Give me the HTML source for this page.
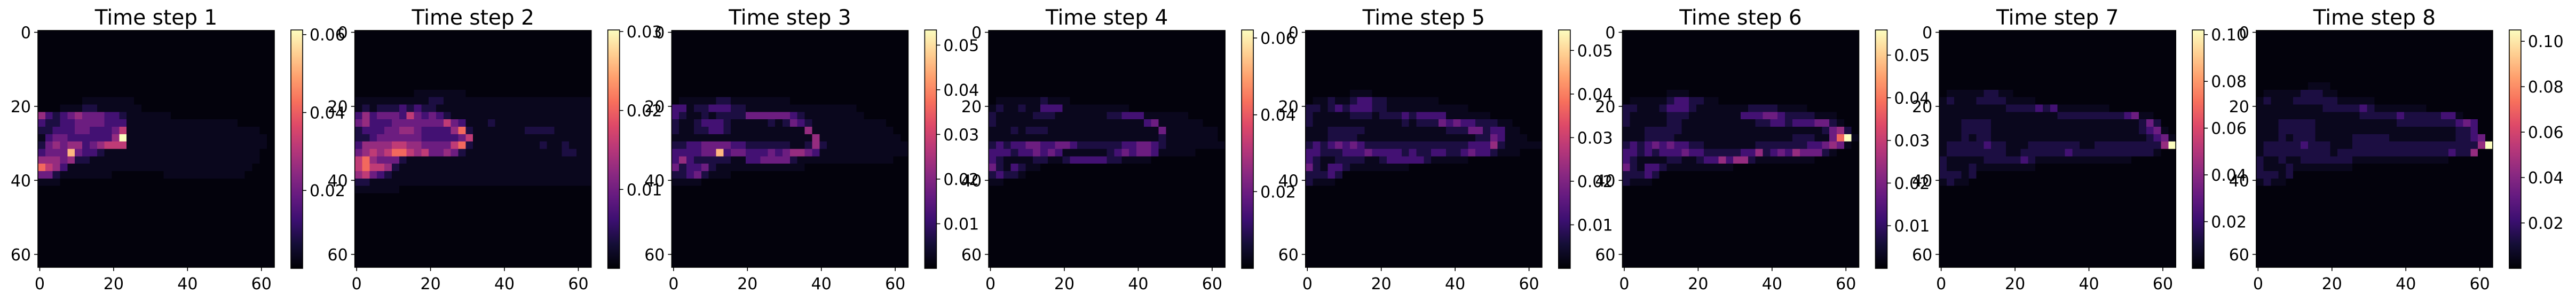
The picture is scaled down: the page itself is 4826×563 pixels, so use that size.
<!DOCTYPE html>
<html><head><meta charset="utf-8">
<style>
html,body{margin:0;padding:0;background:#fff;width:4826px;height:563px;overflow:hidden}
svg{display:block}
text{font-family:"DejaVu Sans","Liberation Sans",sans-serif;fill:#000}
</style></head>
<body>
<svg id="fig" width="4826" height="563" viewBox="0 0 4826 563" xmlns="http://www.w3.org/2000/svg"></svg>
<script>
// ---- data ----
const titles = ["Time step 1","Time step 2","Time step 3","Time step 4","Time step 5","Time step 6","Time step 7","Time step 8"];
const vmax = [0.0612,0.0302,0.0534,0.0621,0.0547,0.0559,0.102,0.105];
const cbTicks1 = [0.02,0.04,0.06];
const cbTicks2 = [0.01,0.02,0.03];
const cbTicks3 = [0.01,0.02,0.03,0.04,0.05];
const cbTicks4 = [0.02,0.04,0.06];
const cbTicks5 = [0.01,0.02,0.03,0.04,0.05];
const cbTicks6 = [0.01,0.02,0.03,0.04,0.05];
const cbTicks7 = [0.02,0.04,0.06,0.08,0.10];
const cbTicks8 = [0.02,0.04,0.06,0.08,0.10];
const cbTickLabels1 = ["0.02","0.04","0.06"];
const cbTickLabels2 = ["0.01","0.02","0.03"];
const cbTickLabels3 = ["0.01","0.02","0.03","0.04","0.05"];
const cbTickLabels4 = ["0.02","0.04","0.06"];
const cbTickLabels5 = ["0.01","0.02","0.03","0.04","0.05"];
const cbTickLabels6 = ["0.01","0.02","0.03","0.04","0.05"];
const cbTickLabels7 = ["0.02","0.04","0.06","0.08","0.10"];
const cbTickLabels8 = ["0.02","0.04","0.06","0.08","0.10"];
const axisTicks = [0,20,40,60];
// level code -> fraction of vmax
const levels = [0.015,0.05,0.12,0.22,0.32,0.42,0.52,0.68,0.85,1.0];
const Z = "00000000000000000000000000000000";
// 32x32 grids (each char = 2x2 block of the 64x64 field)
const grid1 = [Z,Z,Z,Z,Z,Z,Z,Z,Z,
"00000011111110000000000000000000",
"00011122111111000000000000000000",
"53234544433211111100000000000000",
"32233444433311111111111111100000",
"22333443334611111111111111111100",
"13443333335911111111111111111110",
"24545534566611111111111111111110",
"34448433211111111111111111111100",
"55545221111111111111111111111100",
"76531111111111111111111111111000",
"44211111110000000111111111110000",
"11100000000000000000000000000000",
Z,Z,Z,Z,Z,Z,Z,Z,Z,Z,Z];
const grid2 = [Z,Z,Z,Z,Z,Z,Z,Z,
"00000000111111100000000000000000",
"11111111112211111111111111111111",
"12122232322111111111111111111111",
"35344436434321111111111111111111",
"45333444444464311121111111111111",
"23334455433335721111111222211111",
"22344444433333461111111111111111",
"35555665544446721111111112112111",
"45656776564454211111111111112211",
"67544421111111111111111111111111",
"67665211111111111111111111111111",
"56432111111111111111111111111111",
"22111111111111111111111111111111",
"11111100000000000000000000000000",
Z,Z,Z,Z,Z,Z,Z,Z,Z,Z];
const grid3 = [Z,Z,Z,Z,Z,Z,Z,Z,Z,
"01111122111111110000000000000000",
"33122333221111111111111110000000",
"32112122224444443211111111000000",
"21123332111112124321111111111000",
"21122332111111111151111111111100",
"11111111111111111115111111111110",
"22334444332222221125211111111111",
"33334483443334345543111111111111",
"35322222113344442111111111111100",
"42334211111111111100000000000000",
"22342111000000000000000000000000",
"11110000000000000000000000000000",
Z,Z,Z,Z,Z,Z,Z,Z,Z,Z,Z];
const grid4 = [Z,Z,Z,Z,Z,Z,Z,Z,Z,
"01111112111000000000000000000000",
"12112113331111111110000000000000",
"21111122211111112233311111100000",
"21111111111111111111134111111000",
"11121222111111111111111411111110",
"11111111111111111111111211111110",
"23233443344322222233443211111111",
"33323343431111112343443111110000",
"32111122112333332211110000000000",
"42132110000000000000000000000000",
"23221000000000000000000000000000",
"11000000000000000000000000000000",
Z,Z,Z,Z,Z,Z,Z,Z,Z,Z,Z];
const grid5 = [Z,Z,Z,Z,Z,Z,Z,Z,
"00000011100000000000000000000000",
"01121123322111111100000000000000",
"22123233322111111111110000000000",
"21111122212223233331111110000000",
"21111111111112122243433222110000",
"11122222111111111112224423311000",
"11122221111111111111111224311100",
"23234343222222222222223335211111",
"33222333433332322332234332111000",
"32112222112333332111110000000000",
"42133211111111000000000000000000",
"22232000000000000000000000000000",
"21110000000000000000000000000000",
Z,Z,Z,Z,Z,Z,Z,Z,Z,Z,Z];
const grid6 = [Z,Z,Z,Z,Z,Z,Z,Z,
"00000011100000000000000000000000",
"01111123322110000000000000000000",
"22111233321111111222211110000000",
"21111122211111113334432222111000",
"21111122111111111122332333442100",
"11122222111111111111111111124520",
"11122221111111111111111222114791",
"23234343322111111122222223345410",
"33232333433222223352343544421000",
"32111122112335355211111111000000",
"42133211111111100000000000000000",
"22232000000000000000000000000000",
"21110000000000000000000000000000",
Z,Z,Z,Z,Z,Z,Z,Z,Z,Z,Z];
const grid7 = [Z,Z,Z,Z,Z,Z,Z,Z,
"01111122110000000000000000000000",
"12111222211110000000000000000000",
"11111111122223231111111000000000",
"11111111111111112222222223411000",
"11122221111111111111111111124200",
"11122221111111111111111111123410",
"11121221111111111111111111112341",
"12222232211122222221122222222259",
"12222222211222222322222222222100",
"21111122222321111111111111000000",
"21112111111110000000000000000000",
"22212000000000000000000000000000",
"12110000000000000000000000000000",
Z,Z,Z,Z,Z,Z,Z,Z,Z,Z,Z];
const grid8 = [Z,Z,Z,Z,Z,Z,Z,
"00000001110000000000000000000000",
"01111122211000000000000000000000",
"12111222222111110000000000000000",
"11111111122222321111111000000000",
"11111111111111222223222223310000",
"11122222111111111112222222234300",
"11122222111111111111111111122300",
"11121222111112222211111111122340",
"12222232221112222222222222222259",
"12222222221222222222222222322500",
"21121122222221111111111111000000",
"21112111111110000000000000000000",
"22212000000000000000000000000000",
"12110000000000000000000000000000",
Z,Z,Z,Z,Z,Z,Z,Z,Z,Z,Z];
const grids = [grid1,grid2,grid3,grid4,grid5,grid6,grid7,grid8];
const cbTicksAll = [cbTicks1,cbTicks2,cbTicks3,cbTicks4,cbTicks5,cbTicks6,cbTicks7,cbTicks8];
const cbLabelsAll = [cbTickLabels1,cbTickLabels2,cbTickLabels3,cbTickLabels4,cbTickLabels5,cbTickLabels6,cbTickLabels7,cbTickLabels8];

// ---- layout ----
const NS = "http://www.w3.org/2000/svg";
const svg = document.getElementById("fig");
const PITCH = 593.7, LEFT0 = 71, TOP = 57, SIZE = 443, N = 64;
const CB_OFF = 474, CB_W = 22, CB_TOP = 56, CB_H = 446;
const magma = [[0,0,4],[20,14,54],[59,15,112],[100,26,128],[140,41,129],[183,55,121],[222,73,104],[247,112,92],[254,159,109],[254,207,146],[252,253,191]];
function cmap(t){
  t = Math.max(0, Math.min(1, t));
  const p = t*10, i = Math.min(9, Math.floor(p)), f = p - i;
  const a = magma[i], b = magma[i+1];
  return `rgb(${Math.round(a[0]+(b[0]-a[0])*f)},${Math.round(a[1]+(b[1]-a[1])*f)},${Math.round(a[2]+(b[2]-a[2])*f)})`;
}
function mk(tag, attrs, parent){
  const e = document.createElementNS(NS, tag);
  for (const k in attrs) e.setAttribute(k, attrs[k]);
  (parent||svg).appendChild(e);
  return e;
}
const defs = mk("defs", {});
const grad = mk("linearGradient", {id:"magmaGrad", x1:"0", y1:"1", x2:"0", y2:"0"}, defs);
for (let i=0;i<=10;i++) mk("stop", {offset:(i/10).toString(), "stop-color":cmap(i/10)}, grad);

for (let p=0;p<8;p++){
  const left = LEFT0 + PITCH*p;
  const xScale = v => left + (v+0.5)*SIZE/N;
  const yScale = v => TOP + (v+0.5)*SIZE/N;
  const g = mk("g", {});
  
  
  const t = mk("text", {x: left+SIZE/2, y: 46, "text-anchor":"middle", "font-size":"39"}, g);
  t.textContent = titles[p];
  
  
  const hm = mk("g", {"shape-rendering":"crispEdges"}, g);
  
  
  const grid = grids[p];
  const cell = SIZE/N;
  for (let r=0;r<grid.length;r++){
    for (let c=0;c<grid[r].length;c++){
      const lv = levels[+grid[r][c]];
      const val = lv*vmax[p];
      const x0 = xScale(c*2) - cell/2, y0 = yScale(r*2) - cell/2;
      const rc = mk("rect", {x:x0.toFixed(2), y:y0.toFixed(2), width:(cell*2+0.5).toFixed(2), height:(cell*2+0.5).toFixed(2), fill:cmap(val/vmax[p])}, hm);
      
      
    }
  }
  const fr = mk("rect", {x:left, y:TOP, width:SIZE, height:SIZE, fill:"none", stroke:"#000", "stroke-width":"1.6"}, g);
  
  
  for (const v of axisTicks){
    const xx = xScale(v);
    mk("line", {x1:xx, x2:xx, y1:TOP+SIZE, y2:TOP+SIZE+7, stroke:"#000", "stroke-width":"1.6"}, g);
    const xl = mk("text", {x:xx, y:541, "text-anchor":"middle", "font-size":"30"}, g);
    xl.textContent = v;
    
    
    const yy = yScale(v);
    mk("line", {x1:left-7, x2:left, y1:yy, y2:yy, stroke:"#000", "stroke-width":"1.6"}, g);
    const yl = mk("text", {x:left-13, y:yy+11, "text-anchor":"end", "font-size":"30"}, g);
    yl.textContent = v;
    
    
  }
  const cbx = left + CB_OFF;
  const cb = mk("rect", {x:cbx, y:CB_TOP, width:CB_W, height:CB_H, fill:"url(#magmaGrad)", stroke:"#000", "stroke-width":"1.6"}, g);
  
  
  const cbScale = v => CB_TOP + CB_H - (v/vmax[p])*CB_H;
  const tk = cbTicksAll[p], tl = cbLabelsAll[p];
  for (let i=0;i<tk.length;i++){
    const yy = cbScale(tk[i]);
    mk("line", {x1:cbx+CB_W, x2:cbx+CB_W+7, y1:yy, y2:yy, stroke:"#000", "stroke-width":"1.6"}, g);
    const cl = mk("text", {x:cbx+CB_W+13, y:yy+11, "font-size":"30"}, g);
    cl.textContent = tl[i];
    
    
  }
}
</script>
</body></html>
